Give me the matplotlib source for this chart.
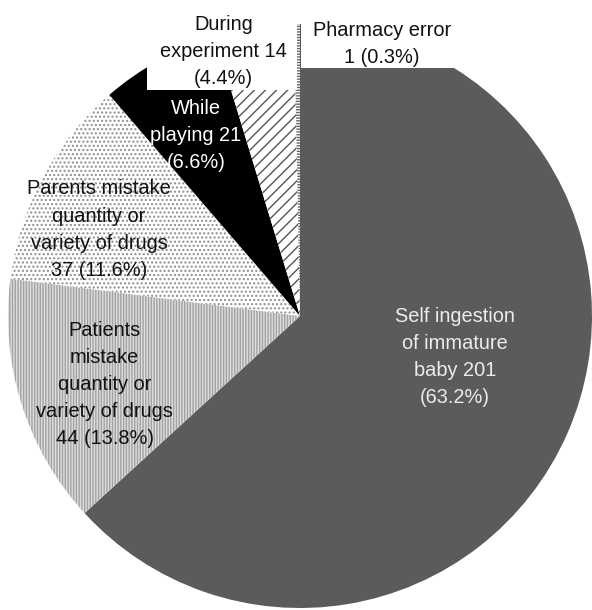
import matplotlib
matplotlib.use("Agg")
import matplotlib.pyplot as plt
from matplotlib.patches import Rectangle

plt.rcParams['font.family'] = ['Liberation Sans', 'DejaVu Sans']
plt.rcParams['hatch.linewidth'] = 1.0

# Causes of accidental drug ingestion (counts and shares)
categories = [
    "Self ingestion\nof immature\nbaby",
    "Patients\nmistake\nquantity or\nvariety of drugs",
    "Parents mistake\nquantity or\nvariety of drugs",
    "While\nplaying",
    "During\nexperiment",
    "Pharmacy error",
]
counts = [201, 44, 37, 21, 14, 1]
percents = [63.2, 13.8, 11.6, 6.6, 4.4, 0.3]

label_texts = [
    "Self ingestion\nof immature\nbaby 201\n(63.2%)",
    "Patients\nmistake\nquantity or\nvariety of drugs\n44 (13.8%)",
    "Parents mistake\nquantity or\nvariety of drugs\n37 (11.6%)",
    "While\nplaying 21\n(6.6%)",
    "During\nexperiment 14\n(4.4%)",
    "Pharmacy error\n1 (0.3%)",
]

W, H = 592, 610
fig = plt.figure(figsize=(W / 100, H / 100), dpi=100)
ax = fig.add_axes([0, 0, 1, 1])

def py(y):
    # convert a top-down pixel row to data y
    return H - y

face = ['#5b5b5b', '#dedede', '#ffffff', '#000000', '#ffffff', '#ffffff']
hatch_col = ['#5b5b5b', '#a2a2a2', '#8e8e8e', '#000000', '#555555', '#666666']
hatches = [None, '||||||', '....', None, '///', '------']

wedges, _ = ax.pie(counts, startangle=90, counterclock=False,
                   center=(300, py(316)), radius=292, frame=True)
for w, fc, hc, h in zip(wedges, face, hatch_col, hatches):
    w.set_facecolor(fc)
    w.set_edgecolor(hc)
    w.set_linewidth(0)
    if h:
        w.set_hatch(h)

ax.set_xlim(0, W)
ax.set_ylim(0, H)
ax.set_aspect('equal')
ax.axis('off')

# white label backgrounds at the top
ax.add_patch(Rectangle((147, py(90)), 297 - 147, 90, facecolor='white',
                       edgecolor='none', zorder=3))
ax.add_patch(Rectangle((301, py(68)), 460 - 301, 68, facecolor='white',
                       edgecolor='none', zorder=3))

# label anchor (center x, top y in pixels) and text colour
label_pos = [(455, 306.5), (104.5, 320.5), (99, 179.5),
             (196, 98.5), (223.5, 14.5), (382, 20.5)]
label_col = ['#ececec', '#111111', '#111111', '#ffffff', '#111111', '#111111']

for txt, (x, y), c in zip(label_texts, label_pos, label_col):
    ax.text(x, py(y), txt, ha='center', va='top', multialignment='center',
            fontsize=14.4, color=c, linespacing=1.55, zorder=5)

fig.savefig('out.png', dpi=100)
